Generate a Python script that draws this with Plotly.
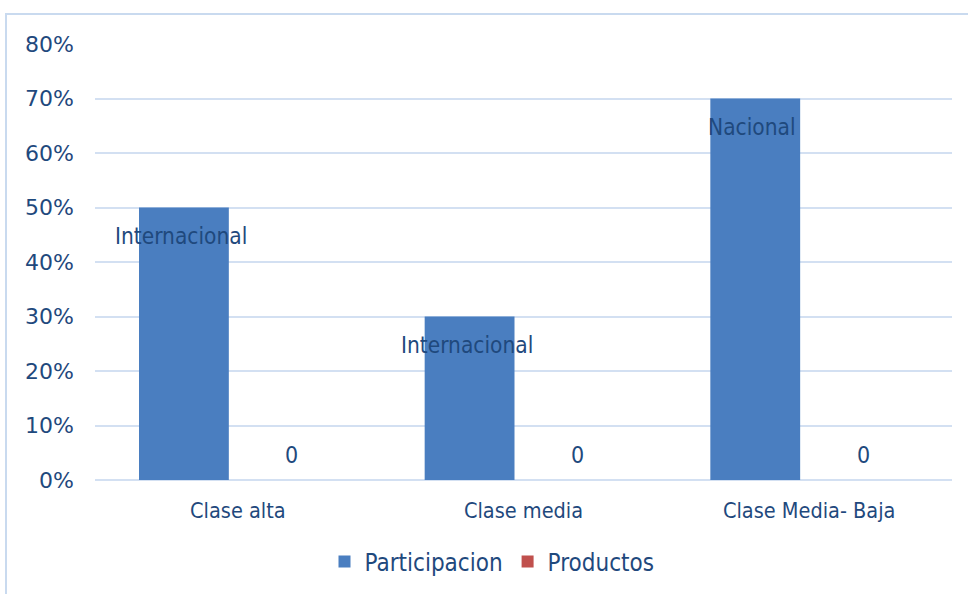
import plotly.graph_objects as go

# Chart data
categories = ["Clase alta", "Clase media", "Clase Media- Baja"]
participacion = [0.50, 0.30, 0.70]
productos = [0, 0, 0]
origen = ["Internacional", "Internacional", "Nacional"]
y_ticks = [0, 0.1, 0.2, 0.3, 0.4, 0.5, 0.6, 0.7, 0.8]
y_tick_labels = ["0%", "10%", "20%", "30%", "40%", "50%", "60%", "70%", "80%"]

W, H = 968, 594
ML, MR, MT, MB = 95, 16, 44, 114
PW, PH = W - ML - MR, H - MT - MB

FONT = "DejaVu Sans Condensed"
TICK_FONT = "DejaVu Sans"
TEXT = "#1F497D"
GRID = "#D3E0F2"


def px_x(px):
    return (px - ML) / PW


def px_y(py):
    return (H - MB - py) / PH


fig = go.Figure()
fig.add_trace(go.Bar(
    name="Participacion", x=categories, y=participacion,
    marker=dict(color="#4A7EC0", line=dict(width=0)),
))
fig.add_trace(go.Bar(
    name="Productos", x=categories, y=productos,
    marker=dict(color="#C0504D", line=dict(width=0)),
))

# Category labels on the first series, counts on the second
for cat, val, lab in zip(categories, participacion, origen):
    fig.add_annotation(x=cat, y=val, xref="x", yref="y", text=lab,
                       showarrow=False, xshift=-57, yshift=-28,
                       font=dict(family=FONT, size=22.5, color=TEXT))
for cat, val in zip(categories, productos):
    fig.add_annotation(x=cat, y=val, xref="x", yref="y", text=str(val),
                       showarrow=False, xshift=54, yshift=25,
                       font=dict(family=FONT, size=23, color=TEXT))

# Chart-area frame (top and left edges)
frame = dict(color="#C9DAEF", width=2)
fig.add_shape(type="line", xref="paper", yref="paper",
              x0=px_x(5), x1=px_x(970), y0=px_y(14), y1=px_y(14), line=frame)
fig.add_shape(type="line", xref="paper", yref="paper",
              x0=px_x(6), x1=px_x(6), y0=px_y(14), y1=px_y(600), line=frame)

fig.update_layout(
    width=W, height=H,
    margin=dict(l=ML, r=MR, t=MT, b=MB, autoexpand=False),
    paper_bgcolor="white", plot_bgcolor="white",
    barmode="group", bargap=0.245, bargroupgap=0.167,
    font=dict(family=FONT, size=20, color=TEXT),
    showlegend=True,
    legend=dict(orientation="h", x=px_x(492), xanchor="center",
                y=px_y(562), yanchor="middle",
                font=dict(family=FONT, size=24, color=TEXT),
                itemwidth=30, bgcolor="rgba(0,0,0,0)"),
)
fig.update_xaxes(showgrid=False, showline=False, zeroline=False,
                 ticks="", ticklabelstandoff=15,
                 tickfont=dict(family=FONT, size=21.5, color=TEXT))
fig.update_yaxes(range=[0, 0.8], tickvals=y_ticks, ticktext=y_tick_labels,
                 showgrid=True, gridcolor=GRID, gridwidth=2,
                 zeroline=True, zerolinecolor=GRID, zerolinewidth=2,
                 showline=False, ticks="", ticklabelstandoff=20,
                 tickfont=dict(family=TICK_FONT, size=22, color=TEXT))

fig.write_html("out.html")
